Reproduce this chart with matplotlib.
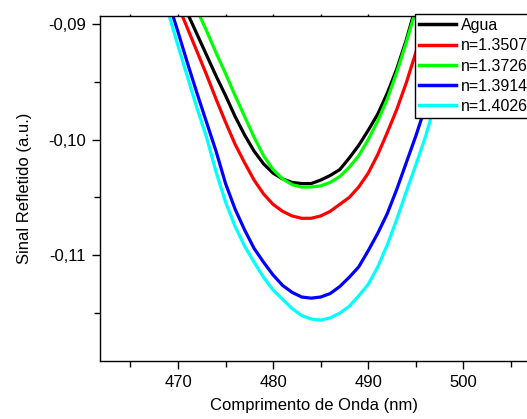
import matplotlib
matplotlib.use("Agg")
import matplotlib.pyplot as plt
from matplotlib.ticker import MultipleLocator, FuncFormatter

plt.rcParams['font.family'] = ['Liberation Sans', 'DejaVu Sans']

# wavelength grid (nm) and reflected signal for each sample
wl_agua = [470, 471, 472, 473, 474, 475, 476, 477, 478, 479, 480, 481, 482, 483,
           484, 485, 486, 487, 488, 489, 490, 491, 492, 493, 494, 495, 496]
agua = [-0.0873, -0.0891, -0.0909, -0.0927, -0.0945, -0.0962, -0.0980, -0.0996,
        -0.1010, -0.1021, -0.1029, -0.1034, -0.1037, -0.1038, -0.1038, -0.1035,
        -0.1031, -0.1026, -0.1016, -0.1005, -0.0992, -0.0978, -0.0960, -0.0939,
        -0.0914, -0.0885, -0.0855]

wl_n1 = [469, 470, 471, 472, 473, 474, 475, 476, 477, 478, 479, 480, 481, 482,
         483, 484, 485, 486, 487, 488, 489, 490, 491, 492, 493, 494, 495, 496, 497]
n1 = [-0.0864, -0.0884, -0.0904, -0.0924, -0.0944, -0.0965, -0.0985, -0.1004,
      -0.1020, -0.1035, -0.1047, -0.1056, -0.1062, -0.1066, -0.1068, -0.1068,
      -0.1066, -0.1062, -0.1056, -0.1050, -0.1041, -0.1029, -0.1013, -0.0994,
      -0.0974, -0.0951, -0.0925, -0.0897, -0.0868]

wl_n2 = [471, 472, 473, 474, 475, 476, 477, 478, 479, 480, 481, 482, 483, 484,
         485, 486, 487, 488, 489, 490, 491, 492, 493, 494, 495, 496]
n2 = [-0.0870, -0.0888, -0.0906, -0.0925, -0.0943, -0.0962, -0.0980, -0.0998,
      -0.1014, -0.1026, -0.1034, -0.1039, -0.1041, -0.1041, -0.1040, -0.1037,
      -0.1032, -0.1024, -0.1014, -0.1000, -0.0984, -0.0965, -0.0942, -0.0916,
      -0.0888, -0.0858]

wl_n3 = [468, 469, 470, 471, 472, 473, 474, 475, 476, 477, 478, 479, 480, 481,
         482, 483, 484, 485, 486, 487, 488, 489, 490, 491, 492, 493, 494, 495,
         496, 497, 498, 499]
n3 = [-0.0855, -0.0881, -0.0907, -0.0934, -0.0960, -0.0985, -0.1010, -0.1038,
      -0.1060, -0.1078, -0.1094, -0.1106, -0.1117, -0.1126, -0.1132, -0.1136,
      -0.1137, -0.1136, -0.1133, -0.1127, -0.1119, -0.1110, -0.1096, -0.1081,
      -0.1064, -0.1043, -0.1020, -0.0997, -0.0972, -0.0944, -0.0914, -0.0883]

wl_n4 = [468, 469, 470, 471, 472, 473, 474, 475, 476, 477, 478, 479, 480, 481,
         482, 483, 484, 485, 486, 487, 488, 489, 490, 491, 492, 493, 494, 495,
         496, 497, 498, 499, 500]
n4 = [-0.0864, -0.0891, -0.0919, -0.0946, -0.0973, -0.0998, -0.1028, -0.1054,
      -0.1075, -0.1092, -0.1106, -0.1119, -0.1130, -0.1138, -0.1146, -0.1152,
      -0.1155, -0.1156, -0.1154, -0.1150, -0.1144, -0.1135, -0.1125, -0.1110,
      -0.1091, -0.1069, -0.1045, -0.1022, -0.0998, -0.0970, -0.0940, -0.0908,
      -0.0876]

labels = ['Agua', 'n=1.3507', 'n=1.3726', 'n=1.3914', 'n=1.4026']
colors = ['black', 'red', '#00ff00', 'blue', 'cyan']

fig = plt.figure(figsize=(5.27, 4.19), dpi=100)
ax = fig.add_axes([0.1898, 0.1392, 0.8121, 0.8233])

series = [(wl_agua, agua), (wl_n1, n1), (wl_n2, n2), (wl_n3, n3), (wl_n4, n4)]
for (x, y), lab, c in zip(series, labels, colors):
    ax.plot(x, y, color=c, lw=2.3, label=lab)

ax.set_xlim(461.8, 506.8)
ax.set_ylim(-0.1191, -0.0893)

ax.xaxis.set_major_locator(MultipleLocator(10))
ax.xaxis.set_minor_locator(MultipleLocator(5))
ax.yaxis.set_major_locator(MultipleLocator(0.01))
ax.yaxis.set_minor_locator(MultipleLocator(0.005))
ax.yaxis.set_major_formatter(FuncFormatter(lambda v, p: ('%.2f' % v).replace('.', ',')))

ax.tick_params(which='both', direction='out', labelsize=12, width=1, pad=4)
ax.tick_params(which='major', length=6)
ax.tick_params(which='minor', length=4)
# Origin style: only tiny marks on the top axis
ax.tick_params(which='both', top=True, labeltop=False)
for t in ax.xaxis.get_major_ticks() + ax.xaxis.get_minor_ticks():
    t.tick2line.set_markersize(1.5)
for sp in ax.spines.values():
    sp.set_linewidth(1.0)

ax.set_xlabel('Comprimento de Onda (nm)', fontsize=12, labelpad=6)
ax.set_ylabel('Sinal Refletido (a.u.)', fontsize=12, labelpad=12)

leg = fig.legend(loc='upper left', bbox_to_anchor=(415 / 527, 1 - 14 / 419),
                 fontsize=11.5, frameon=True, fancybox=False, framealpha=1,
                 edgecolor='black', borderpad=0.25, labelspacing=0.33,
                 handlelength=2.3, handletextpad=0.3, borderaxespad=0)
leg.get_frame().set_linewidth(1.0)
for line in leg.get_lines():
    line.set_linewidth(2.5)

fig.savefig('out.png', dpi=100)
